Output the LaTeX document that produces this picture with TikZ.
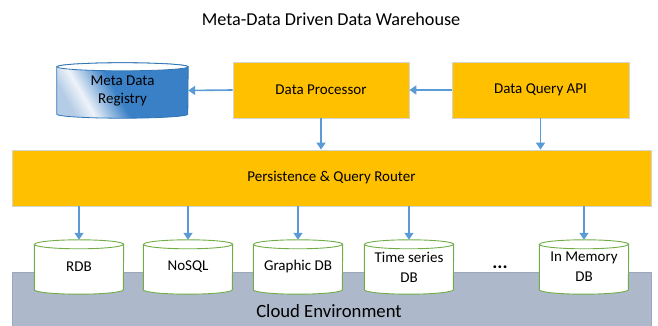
\documentclass[tikz,border=0pt]{standalone}
\usepackage{fontspec}
\setmainfont{Carlito}
\usetikzlibrary{arrows.meta,backgrounds}

\definecolor{boxYellow}{HTML}{FFC000}
\definecolor{boxEdge}{HTML}{D4D4D4}
\definecolor{flowBlue}{HTML}{5B9BD5}
\definecolor{cloudFill}{HTML}{ADB9CA}
\definecolor{cloudEdge}{HTML}{9AA8BD}
\definecolor{dbGreen}{HTML}{70AD47}
\definecolor{regBlue}{HTML}{2E75B6}
\definecolor{regDeep}{HTML}{3A80C6}
\definecolor{regMid}{HTML}{B4CCE6}
\definecolor{regLight}{HTML}{EEF3F9}

% registry body: soft light streak on the left fading into solid blue
\pgfdeclarehorizontalshading{regshade}{100bp}{%
  color(0bp)=(regMid); color(24bp)=(regMid); color(32bp)=(regLight);
  color(47bp)=(regDeep); color(100bp)=(regDeep)}

\tikzset{
  txt/.style={font=\fontsize{15}{18}\selectfont},
  procbox/.style={txt, draw=boxEdge, line width=0.8pt, fill=boxYellow,
    minimum height=56pt, inner sep=0pt},
  flow/.style={draw=flowBlue, line width=1.6pt,
    -{Triangle[width=9pt,length=7pt]}},
  dbslot/.style={minimum width=89pt, minimum height=54pt, inner sep=0pt,
    align=center, font=\fontsize{15}{20}\selectfont},
  dbwall/.style={draw=dbGreen, line width=0.9pt, fill=white},
}

% cylinder outline around a rectangular node: node, x radius, y radius, style
\newcommand\cylbody[4]{%
  \path[#4] ([yshift=-#3]#1.north west) -- ([yshift=#3]#1.south west)
    arc[start angle=180,end angle=360,x radius=#2,y radius=#3]
    -- ([yshift=-#3]#1.north east)
    arc[start angle=0,end angle=180,x radius=#2,y radius=#3] -- cycle;}
\newcommand\cylrim[4]{%
  \path[#4] ([yshift=-#3]#1.north west)
    arc[start angle=180,end angle=360,x radius=#2,y radius=#3];}

\begin{document}
\begin{tikzpicture}[x=1pt,y=1pt]
  \useasboundingbox (0,0) rectangle (658,326);

  \node[anchor=base, font=\fontsize{18.2}{22}\selectfont] (title) at (331,300)
    {Meta-Data Driven Data Warehouse};

  % upper row
  \node[dbslot, minimum width=131pt, minimum height=55pt, font=\fontsize{15}{18}\selectfont]
    (reg) at (122.5,235.5) {Meta Data\\Registry};
  \node[procbox, minimum width=176pt] (dp) at (321,236) {Data Processor};
  \node[procbox, minimum width=177pt] (dqa) at (540.5,236) {Data Query API};

  % router
  \node[procbox, minimum width=639pt] (router) at (331.5,148)
    {Persistence \& Query Router};

  % storage engines
  \node[dbslot] (rdb) at (79,59) {RDB};
  \node[dbslot] (nosql) at (188,59) {NoSQL};
  \node[dbslot] (graph) at (298,59) {Graphic DB};
  \node[dbslot] (tsdb) at (409,59) {Time series\\DB};
  \node[dbslot] (memdb) at (584,59) {In Memory\\DB};
  \node[anchor=base, font=\fontsize{19}{22}\bfseries] (more) at (500,57.5) {...};

  \node[anchor=base, font=\fontsize{18.7}{22}\selectfont] (cloudlbl) at (329,8)
    {Cloud Environment};

  \begin{scope}[on background layer]
    \node[fill=cloudFill, draw=cloudEdge, line width=0.6pt,
      minimum width=639pt, minimum height=58pt, inner sep=0pt]
      (cloud) at (331.5,25) {};
    \foreach \db in {rdb,nosql,graph,tsdb,memdb}{
      \cylbody{\db}{44.5pt}{4.5pt}{dbwall}
      \cylrim{\db}{44.5pt}{4.5pt}{draw=dbGreen, line width=0.9pt}
    }
    \cylbody{reg}{65.5pt}{4pt}{draw=regBlue, line width=0.8pt,
      shading=regshade, shading angle=30}
    \path[draw=regBlue, line width=0.8pt, fill=white]
      ([yshift=-4pt]reg.north) ellipse[x radius=65.5pt, y radius=4pt];
  \end{scope}

  % connectors
  \draw[flow] (dp.west) -- (reg.east);
  \draw[flow] (dqa.west) -- (dp.east);
  \draw[flow] (dp.south) -- (dp.south |- router.north);
  \draw[flow] (dqa.south) -- (dqa.south |- router.north);
  \foreach \db in {rdb,nosql,graph,tsdb,memdb}
    \draw[flow] (router.south -| \db.north) -- (\db.north);
\end{tikzpicture}
\end{document}
